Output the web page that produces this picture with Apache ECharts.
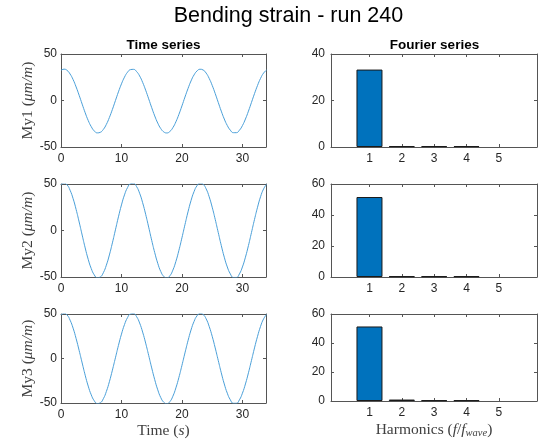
<!DOCTYPE html>
<html>
<head>
<meta charset="utf-8">
<script src="https://cdn.jsdelivr.net/npm/echarts@6/dist/echarts.min.js"></script>
<style>
  html, body { margin: 0; padding: 0; background: #fff; }
  #chart { width: 548px; height: 440px; }
</style>
</head>
<body>
<div id="chart"></div>
<script>
// time axis (s)
const time = [0, 0.5, 1, 1.5, 2, 2.5, 3, 3.5, 4, 4.5, 5, 5.5, 6, 6.5, 7, 7.5, 8, 8.5, 9, 9.5,
  10, 10.5, 11, 11.5, 12, 12.5, 13, 13.5, 14, 14.5, 15, 15.5, 16, 16.5, 17, 17.5, 18, 18.5, 19, 19.5,
  20, 20.5, 21, 21.5, 22, 22.5, 23, 23.5, 24, 24.5, 25, 25.5, 26, 26.5, 27, 27.5, 28, 28.5, 29, 29.5,
  30, 30.5, 31, 31.5, 32, 32.5, 33, 33.5, 34]

// bending strain (um/m)
const my1 = [32.4, 33.7, 32.4, 28.5, 22.5, 14.6, 5.6, -3.9, -13.2, -21.5, -28.1, -32.7, -34.8, -34.2, -31.1, -25.7, -18.3, -9.6, -0.1, 9.3,
  17.9, 25.1, 30.4, 33.2, 33.5, 31.1, 26.4, 19.5, 11.1, 1.8, -7.7, -16.6, -24.3, -30.2, -33.8, -34.9, -33.3, -29.2, -22.9, -14.9,
  -5.8, 3.7, 12.8, 21.0, 27.5, 31.8, 33.6, 32.8, 29.5, 23.8, 16.3, 7.5, -2.0, -11.4, -19.9, -26.9, -31.9, -34.6, -34.6, -32.0,
  -27.0, -19.9, -11.4, -2.0, 7.4, 16.2, 23.8, 29.5, 32.8]
const my2 = [49.1, 51.0, 49.1, 43.3, 34.3, 22.6, 9.2, -4.9, -18.7, -31.0, -40.9, -47.7, -50.8, -50.0, -45.4, -37.3, -26.3, -13.3, 0.7, 14.7,
  27.5, 38.3, 46.1, 50.3, 50.7, 47.2, 40.1, 29.9, 17.4, 3.6, -10.6, -23.8, -35.3, -44.1, -49.4, -51.0, -48.7, -42.6, -33.2, -21.3,
  -7.8, 6.3, 20.0, 32.1, 41.8, 48.2, 50.9, 49.7, 44.8, 36.3, 25.1, 12.0, -2.1, -16.0, -28.7, -39.2, -46.6, -50.5, -50.5, -46.7,
  -39.2, -28.7, -16.1, -2.1, 11.9, 25.0, 36.3, 44.7, 49.7]
const my3 = [48.9, 50.8, 48.9, 43.1, 34.1, 22.4, 9.0, -5.0, -18.8, -31.0, -40.8, -47.5, -50.6, -49.8, -45.2, -37.1, -26.1, -13.1, 0.8, 14.7,
  27.4, 38.1, 45.9, 50.1, 50.5, 47.0, 39.9, 29.7, 17.3, 3.5, -10.6, -23.8, -35.2, -43.9, -49.2, -50.8, -48.5, -42.4, -33.0, -21.2,
  -7.7, 6.3, 19.9, 32.0, 41.6, 48.0, 50.7, 49.5, 44.6, 36.1, 25.0, 11.9, -2.1, -16.0, -28.6, -39.0, -46.4, -50.3, -50.3, -46.5,
  -39.0, -28.6, -16.0, -2.1, 11.9, 24.9, 36.1, 44.5, 49.5]

// Fourier amplitudes per harmonic
const harmonics = [1, 2, 3, 4, 5]
const fourier1 = [33.3, 0.4, 0.4, 0.4, 0]
const fourier2 = [51.6, 0.5, 0.5, 0.5, 0]
const fourier3 = [51.4, 1.0, 0.5, 0.5, 0]

const timeTicks = [0, 10, 20, 30]
const strainTicks = [-50, 0, 50]
const fourierTicks40 = [0, 20, 40]
const fourierTicks60 = [0, 20, 40, 60]

const rows = [
  { name: 'My1', strain: my1, fourier: fourier1, fMax: 40, fTicks: fourierTicks40 },
  { name: 'My2', strain: my2, fourier: fourier2, fMax: 60, fTicks: fourierTicks60 },
  { name: 'My3', strain: my3, fourier: fourier3, fMax: 60, fTicks: fourierTicks60 }
]

const rowTops = [54, 184, 314]
const rowHeights = [93, 93, 92]
const axisColor = '#555'
const labelColor = '#262626'
const sans = '"Liberation Sans", Arial, sans-serif'
const serif = '"Liberation Serif", "DejaVu Serif", serif'

const grids = []
const xAxes = []
const yAxes = []
const series = []

const richName = {
  n: { fontFamily: serif, fontSize: 15.5, color: '#404040' },
  i: { fontFamily: serif, fontSize: 15.5, fontStyle: 'italic', color: '#404040' },
  sub: { fontFamily: serif, fontSize: 10.5, fontStyle: 'italic', color: '#404040', padding: [7, 0, 0, 0] }
}

const tickStyle = (vals) => ({ show: true, inside: true, length: 3, customValues: vals, lineStyle: { color: axisColor } })
const lineStyle = { show: true, onZero: false, lineStyle: { color: axisColor, width: 1 } }

rows.forEach((row, r) => {
  const last = r === rows.length - 1
  // left: time series, right: fourier series
  grids.push({ left: 61, top: rowTops[r], width: 205, height: rowHeights[r] })
  grids.push({ left: 331, top: rowTops[r], width: 206, height: rowHeights[r] })
  const gT = 2 * r, gF = 2 * r + 1

  // bottom + top x axes
  xAxes.push({
    type: 'value', gridIndex: gT, min: 0, max: 33.9, position: 'bottom',
    axisLine: lineStyle, axisTick: tickStyle(timeTicks), splitLine: { show: false },
    axisLabel: { customValues: timeTicks, color: labelColor, fontSize: 12, fontFamily: sans, margin: 6 },
    name: last ? '{n|Time (}{i|s}{n|)}' : '', nameLocation: 'middle', nameGap: 20,
    nameTextStyle: { rich: richName }
  })
  xAxes.push({
    type: 'value', gridIndex: gT, min: 0, max: 33.9, position: 'top',
    axisLine: lineStyle, axisTick: tickStyle(timeTicks), axisLabel: { show: false }, splitLine: { show: false }
  })
  xAxes.push({
    type: 'value', gridIndex: gF, min: -0.19, max: 6.18, position: 'bottom',
    axisLine: lineStyle, axisTick: tickStyle(harmonics), splitLine: { show: false },
    axisLabel: { customValues: harmonics, color: labelColor, fontSize: 12, fontFamily: sans, margin: 6 },
    name: last ? '{n|Harmonics (}{i|f}{n|/}{i|f}{sub|wave}{n|)}' : '', nameLocation: 'middle', nameGap: 20,
    nameTextStyle: { rich: richName }
  })
  xAxes.push({
    type: 'value', gridIndex: gF, min: -0.19, max: 6.18, position: 'top',
    axisLine: lineStyle, axisTick: tickStyle(harmonics), axisLabel: { show: false }, splitLine: { show: false }
  })

  // left + right y axes
  yAxes.push({
    type: 'value', gridIndex: gT, min: -50, max: 50, position: 'left',
    axisLine: lineStyle, axisTick: tickStyle(strainTicks), splitLine: { show: false },
    axisLabel: { customValues: strainTicks, color: labelColor, fontSize: 12, fontFamily: sans, margin: 4 },
    name: '{n|' + row.name + ' (}{i|μm/m}{n|)}', nameLocation: 'middle', nameGap: 25,
    nameTextStyle: { rich: richName }
  })
  yAxes.push({
    type: 'value', gridIndex: gT, min: -50, max: 50, position: 'right',
    axisLine: lineStyle, axisTick: tickStyle(strainTicks), axisLabel: { show: false }, splitLine: { show: false }
  })
  yAxes.push({
    type: 'value', gridIndex: gF, min: 0, max: row.fMax, position: 'left',
    axisLine: lineStyle, axisTick: tickStyle(row.fTicks), splitLine: { show: false },
    axisLabel: { customValues: row.fTicks, color: labelColor, fontSize: 12, fontFamily: sans, margin: 6 }
  })
  yAxes.push({
    type: 'value', gridIndex: gF, min: 0, max: row.fMax, position: 'right',
    axisLine: lineStyle, axisTick: tickStyle(row.fTicks), axisLabel: { show: false }, splitLine: { show: false }
  })

  series.push({
    type: 'line', xAxisIndex: 4 * r, yAxisIndex: 4 * r, smooth: true, symbol: 'none', clip: true,
    lineStyle: { color: '#4a9fd8', width: 1 },
    data: time.map((t, i) => [t, row.strain[i]])
  })
  series.push({
    type: 'bar', xAxisIndex: 4 * r + 2, yAxisIndex: 4 * r + 2, barWidth: 26,
    itemStyle: { color: '#0072BD', borderColor: '#1a1a1a', borderWidth: 1 },
    // a zero-height bar draws nothing in the original
    data: harmonics.map((h, i) => row.fourier[i] > 0
      ? [h, row.fourier[i]]
      : { value: [h, row.fourier[i]], itemStyle: { borderWidth: 0, opacity: 0 } })
  })
})

const chart = echarts.init(document.getElementById('chart'))
chart.setOption({
  animation: false,
  backgroundColor: '#fff',
  graphic: [
    { type: 'text', x: 288.5, y: 16, style: { text: 'Bending strain - run 240', textAlign: 'center', textVerticalAlign: 'middle', font: '21.5px ' + sans, fill: '#000' } },
    { type: 'text', x: 163.5, y: 45, style: { text: 'Time series', textAlign: 'center', textVerticalAlign: 'middle', font: 'bold 13.5px ' + sans, fill: '#000' } },
    { type: 'text', x: 434.5, y: 45, style: { text: 'Fourier series', textAlign: 'center', textVerticalAlign: 'middle', font: 'bold 13.5px ' + sans, fill: '#000' } }
  ],
  grid: grids,
  xAxis: xAxes,
  yAxis: yAxes,
  series: series
})
</script>
</body>
</html>
